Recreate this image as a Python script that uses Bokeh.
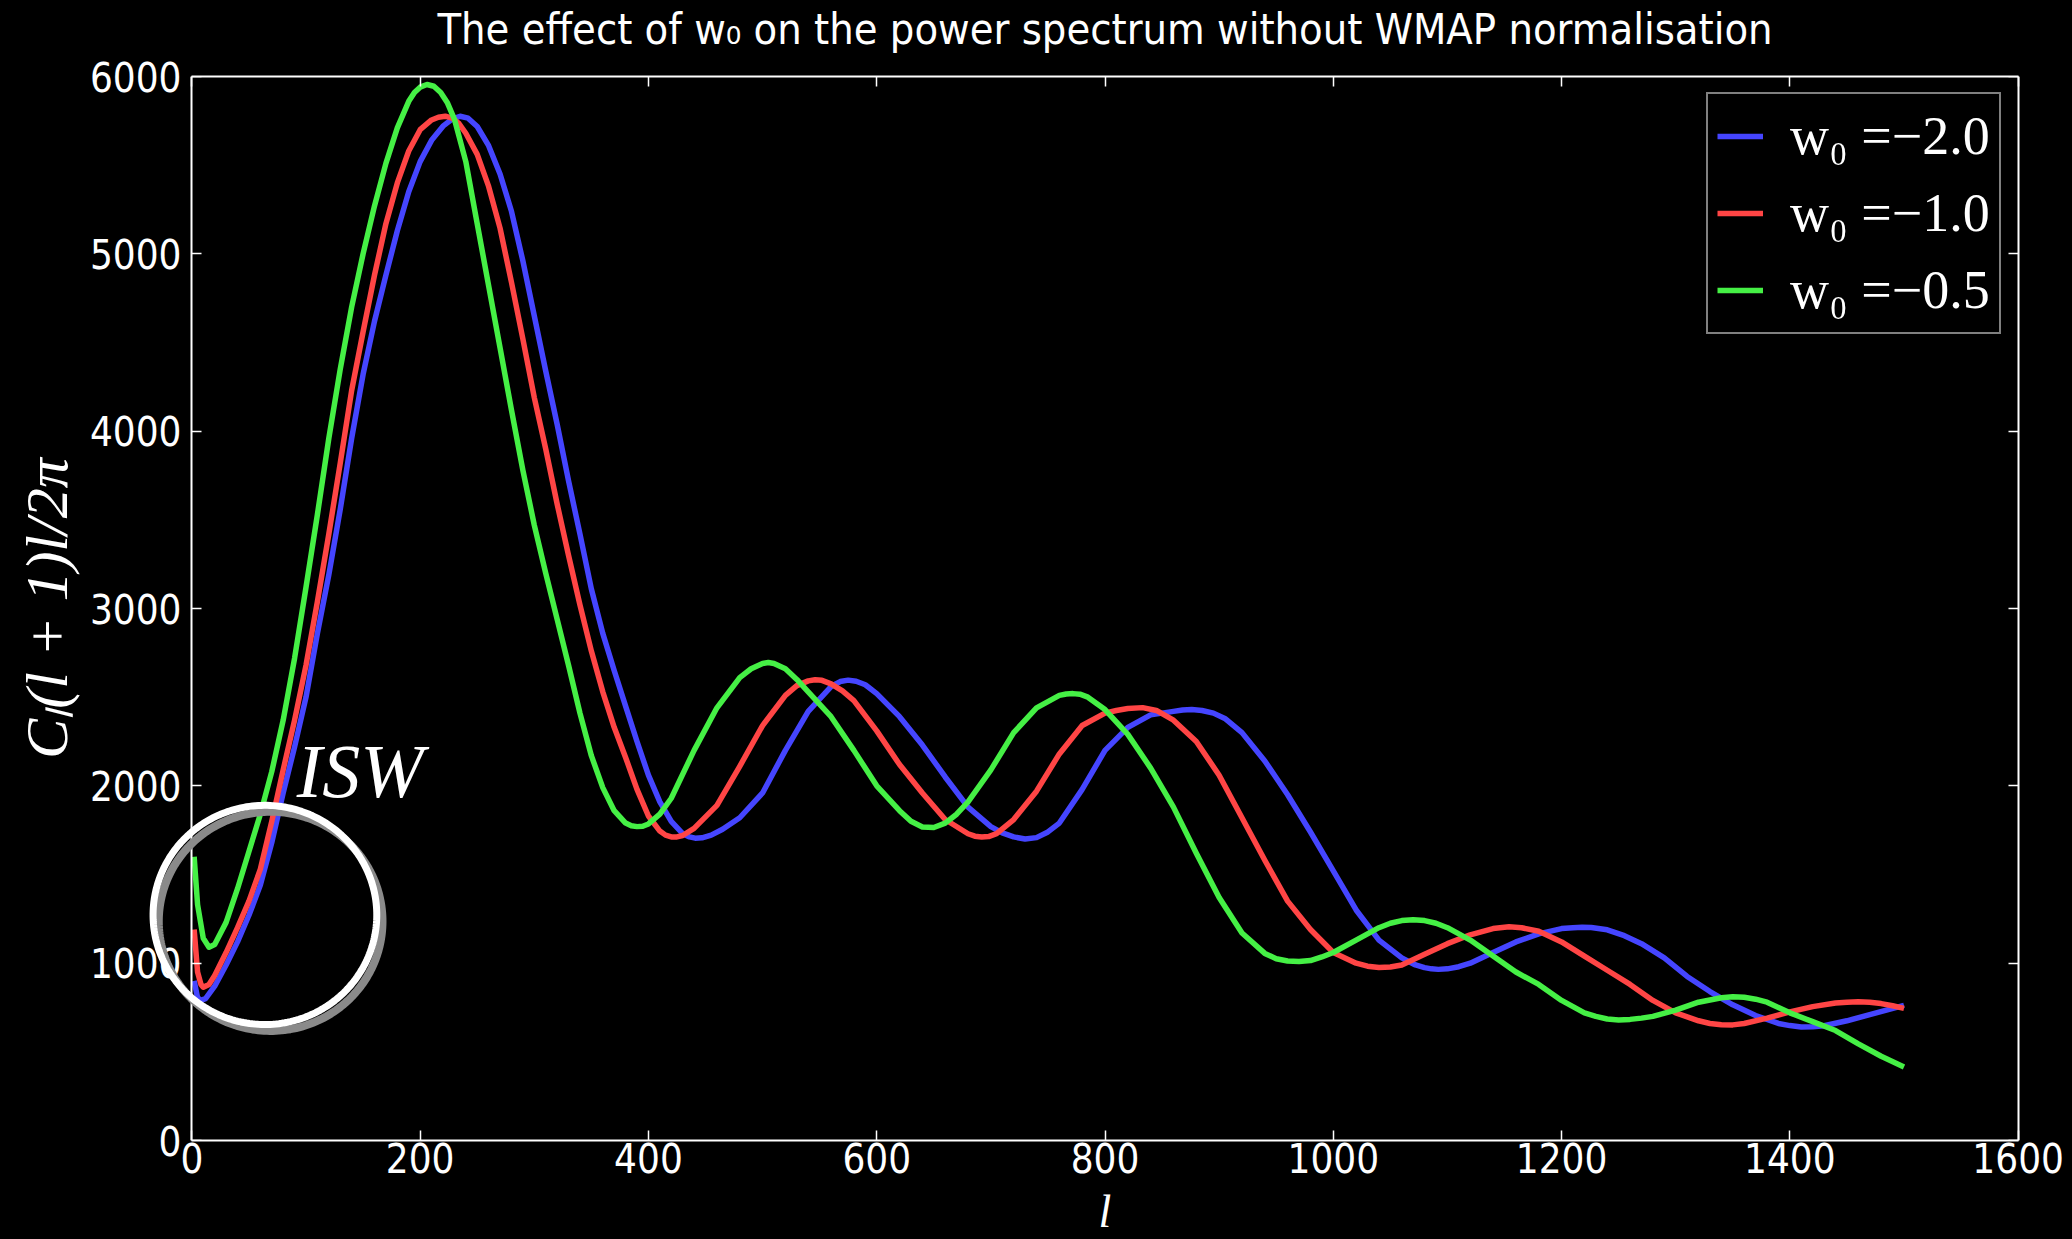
import numpy as np
from bokeh.plotting import figure
from bokeh.models import (LinearAxis, Legend, LegendItem, Label, PolyAnnotation,
                          FixedTicker, Range1d)
from bokeh.embed import file_html
from bokeh.resources import INLINE

# ---------------- data ----------------
x_ticks = [0, 200, 400, 600, 800, 1000, 1200, 1400, 1600]
y_ticks = [0, 1000, 2000, 3000, 4000, 5000, 6000]

series_labels = ["w₀ =−2.0", "w₀ =−1.0", "w₀ =−0.5"]

l_blue = [2, 5, 8, 12, 20, 30, 40, 50, 60, 70, 80, 90, 100, 110, 120, 130, 140, 150,
          160, 170, 180, 190, 200, 210, 220, 228, 235, 242, 250, 260, 270, 280, 290,
          300, 310, 320, 330, 340, 350, 360, 370, 380, 390, 400, 410, 420, 430, 436,
          441, 447, 455, 465, 480, 500, 520, 540, 560, 568, 575, 582, 590, 600, 620,
          640, 660, 680, 700, 710, 720, 730, 740, 750, 760, 780, 800, 820, 840, 860,
          868, 876, 885, 895, 905, 920, 940, 960, 980, 1000, 1020, 1040, 1060, 1072,
          1080, 1086, 1092, 1100, 1110, 1120, 1140, 1160, 1180, 1200, 1210, 1218,
          1226, 1240, 1255, 1270, 1290, 1310, 1330, 1350, 1370, 1390, 1400, 1410,
          1420, 1430, 1450, 1470, 1500]
cl_blue = [900, 805, 790, 800, 870, 990, 1120, 1270, 1440, 1680, 1960, 2220, 2500,
           2860, 3190, 3560, 3960, 4320, 4620, 4880, 5130, 5350, 5520, 5640, 5720,
           5760, 5776, 5765, 5718, 5610, 5450, 5240, 4960, 4650, 4340, 4040, 3720,
           3420, 3110, 2860, 2650, 2450, 2250, 2060, 1910, 1800, 1730, 1712, 1705,
           1707, 1722, 1755, 1820, 1960, 2200, 2420, 2560, 2588, 2596, 2590, 2570,
           2520, 2390, 2230, 2050, 1880, 1770, 1735, 1712, 1700, 1708, 1740, 1790,
           1980, 2200, 2330, 2400, 2420, 2428, 2430, 2425, 2410, 2380, 2300, 2140,
           1950, 1740, 1520, 1300, 1130, 1030, 990, 975, 968, 965, 968, 980, 1000,
           1060, 1120, 1165, 1195, 1200, 1203, 1201, 1188, 1155, 1110, 1030, 925,
           840, 765, 705, 660, 648, 640, 641, 647, 675, 710, 762]

l_red = [2, 5, 8, 10, 15, 20, 30, 40, 50, 60, 70, 80, 90, 100, 110, 120, 130, 140,
         150, 160, 170, 180, 190, 200, 210, 216, 222, 228, 234, 240, 250, 260, 270,
         280, 290, 300, 310, 320, 330, 340, 350, 360, 370, 380, 390, 400, 410, 415,
         420, 425, 430, 440, 460, 480, 500, 520, 530, 540, 546, 552, 560, 570, 580,
         600, 620, 640, 660, 680, 686, 692, 698, 705, 720, 740, 760, 780, 800, 810,
         820, 833, 845, 860, 880, 900, 920, 940, 960, 980, 1000, 1020, 1030, 1040,
         1050, 1060, 1080, 1100, 1120, 1140, 1154, 1165, 1180, 1200, 1220, 1240,
         1260, 1280, 1300, 1320, 1330, 1340, 1350, 1360, 1380, 1400, 1420, 1440,
         1450, 1460, 1470, 1480, 1490, 1500]
cl_red = [1190, 950, 880, 864, 880, 930, 1060, 1200, 1350, 1530, 1800, 2090, 2370,
          2680, 3040, 3420, 3820, 4230, 4560, 4880, 5170, 5400, 5580, 5700, 5755,
          5770, 5776, 5765, 5735, 5680, 5561, 5380, 5145, 4840, 4520, 4190, 3900,
          3590, 3300, 3020, 2760, 2530, 2330, 2160, 1980, 1830, 1745, 1722, 1712,
          1712, 1720, 1760, 1890, 2110, 2340, 2510, 2565, 2592, 2598, 2595, 2575,
          2535, 2480, 2310, 2120, 1960, 1810, 1730, 1716, 1711, 1714, 1730, 1810,
          1970, 2180, 2340, 2410, 2425, 2436, 2441, 2425, 2370, 2250, 2060, 1820,
          1580, 1350, 1190, 1060, 1000, 983, 975, 978, 990, 1050, 1110, 1160, 1195,
          1205, 1200, 1180, 1120, 1040, 960, 880, 790, 720, 675, 660, 653, 652, 660,
          690, 725, 755, 775, 780, 782, 780, 772, 760, 745]

l_green = [2, 5, 10, 15, 20, 30, 40, 50, 60, 70, 80, 90, 100, 110, 120, 130, 140, 150,
           160, 170, 180, 190, 195, 200, 206, 212, 218, 224, 230, 240, 250, 260, 270,
           280, 290, 300, 310, 320, 330, 340, 350, 360, 370, 380, 385, 390, 395, 400,
           410, 420, 440, 460, 480, 490, 500, 505, 510, 520, 530, 540, 560, 580, 600,
           620, 630, 640, 650, 660, 670, 680, 700, 720, 740, 760, 766, 772, 778, 785,
           800, 820, 840, 860, 880, 900, 920, 940, 950, 960, 970, 980, 990, 1000,
           1020, 1040, 1050, 1060, 1070, 1080, 1090, 1100, 1120, 1140, 1160, 1180,
           1200, 1220, 1230, 1240, 1250, 1260, 1270, 1280, 1300, 1320, 1340, 1350,
           1360, 1370, 1380, 1400, 1420, 1440, 1460, 1480, 1500]
cl_green = [1600, 1330, 1140, 1090, 1105, 1230, 1420, 1630, 1840, 2080, 2370, 2720,
            3120, 3530, 3960, 4350, 4700, 5000, 5270, 5510, 5710, 5860, 5910, 5940,
            5955, 5945, 5910, 5850, 5760, 5520, 5170, 4820, 4470, 4120, 3780, 3470,
            3200, 2940, 2680, 2410, 2170, 1990, 1860, 1790, 1775, 1770, 1772, 1785,
            1840, 1930, 2200, 2440, 2610, 2660, 2690, 2695, 2690, 2660, 2600, 2530,
            2390, 2200, 2000, 1860, 1800, 1768, 1765, 1790, 1840, 1910, 2090, 2300,
            2440, 2510, 2518, 2520, 2517, 2500, 2430, 2290, 2100, 1880, 1620, 1370,
            1170, 1055, 1025, 1012, 1010, 1015, 1035, 1060, 1130, 1200, 1225, 1240,
            1245, 1240, 1225, 1200, 1130, 1040, 950, 880, 790, 720, 700, 685, 680,
            683, 690, 700, 735, 780, 805, 810, 808, 797, 780, 720, 670, 620, 545, 475,
            415]

colors = ["#4545ff", "#ff4545", "#45f045"]

TITLE = "The effect of w₀ on the power spectrum without WMAP normalisation"

# ---------------- figure ----------------
SANS = "DejaVu Sans Condensed"
SERIF = "Liberation Serif"

# The frame is padded symmetrically around l = 0..1600 so the ISW ring is not
# clipped; the spines are drawn at l = 0 and l = 1600 by fixed-location axes.
p = figure(width=2072, height=1239, output_backend="svg", toolbar_location=None,
           x_range=Range1d(-45, 1645), y_range=Range1d(0, 6000),
           min_border_left=140, min_border_right=3, min_border_top=75,
           min_border_bottom=97,
           background_fill_color=None, border_fill_color=None,
           outline_line_color=None)
p.styles = {"background-color": "black"}
p.title = None
p.xgrid.visible = False
p.ygrid.visible = False


def style_axis(ax, ticks, show_labels):
    ax.ticker = FixedTicker(ticks=ticks)
    ax.axis_line_color = "white"
    ax.axis_line_width = 2
    ax.major_tick_line_color = "white"
    ax.major_tick_line_width = 1.5
    ax.major_tick_in = 10
    ax.major_tick_out = 0
    ax.minor_tick_line_color = None
    ax.major_label_text_font = SANS
    if show_labels:
        ax.major_label_text_color = "white"
        ax.major_label_text_font_size = "40px"
    else:
        ax.major_label_text_color = None
        ax.major_label_text_font_size = "0px"
        ax.major_label_standoff = 0


# bottom axis (spine from l=0 to 1600)
xa = p.xaxis[0]
style_axis(xa, x_ticks, True)
xa.bounds = (0, 1600)
xa.major_label_standoff = 2
xa.axis_label = "l"
xa.axis_label_text_font = SERIF
xa.axis_label_text_font_style = "italic"
xa.axis_label_text_font_size = "46px"
xa.axis_label_text_color = "white"
xa.axis_label_standoff = 10

# left axis at the frame edge: carries only the tick labels and the axis label
ya = p.yaxis[0]
style_axis(ya, y_ticks, True)
ya.axis_line_color = None
ya.major_tick_line_color = None
ya.major_label_standoff = -41
ya.axis_label = "Cₗ(l + 1)l/2π"
ya.axis_label_text_font = SERIF
ya.axis_label_text_font_style = "italic"
ya.axis_label_text_font_size = "60px"
ya.axis_label_text_color = "white"
ya.axis_label_standoff = 7

# left and right spines with inward ticks at l = 0 and l = 1600
left_spine = LinearAxis(fixed_location=0)
style_axis(left_spine, y_ticks, False)
p.add_layout(left_spine, "left")
right_spine = LinearAxis(fixed_location=1600)
style_axis(right_spine, y_ticks, False)
p.add_layout(right_spine, "right")

# top spine: inward ticks, title as its label
top_ax = LinearAxis()
style_axis(top_ax, x_ticks, False)
top_ax.bounds = (0, 1600)
top_ax.axis_label = TITLE
top_ax.axis_label_text_font = SANS
top_ax.axis_label_text_font_style = "normal"
top_ax.axis_label_text_font_size = "43px"
top_ax.axis_label_text_color = "white"
top_ax.axis_label_standoff = 23
p.add_layout(top_ax, "above")

# ---------------- curves ----------------
renderers = []
for lx, cy, col in [(l_blue, cl_blue, colors[0]), (l_red, cl_red, colors[1]),
                    (l_green, cl_green, colors[2])]:
    r = p.line(lx, cy, line_color=col, line_width=5.5, line_join="round")
    renderers.append(r)

# ---------------- ISW annotation ----------------
theta = np.linspace(0, 2 * np.pi, 240)
cx, cy0, rx, ry = 64, 1272, 98, 618
shadow = PolyAnnotation(xs=list(cx + 5 + rx * np.cos(theta)),
                        ys=list(cy0 - 36 + ry * np.sin(theta)),
                        fill_alpha=0, line_color="#8a8a8a", line_alpha=1.0,
                        line_width=8)
ring = PolyAnnotation(xs=list(cx + rx * np.cos(theta)),
                      ys=list(cy0 + ry * np.sin(theta)),
                      fill_alpha=0, line_color="white", line_alpha=1.0,
                      line_width=7)
p.add_layout(shadow)
p.add_layout(ring)

p.add_layout(Label(x=92, y=2085, text="ISW", text_color="white",
                   text_font=SERIF, text_font_style="italic",
                   text_font_size="76px", text_baseline="middle"))

# ---------------- legend ----------------
items = [LegendItem(label=series_labels[i], renderers=[renderers[i]]) for i in range(3)]
legend = Legend(items=items, location=(1566, 806), padding=9,
                spacing=11, glyph_width=46, glyph_height=66, label_height=66,
                label_standoff=27, label_text_font=SERIF,
                label_text_font_size="54px", label_text_color="white",
                background_fill_color="black", background_fill_alpha=1.0,
                border_line_color="white", border_line_width=2)
p.add_layout(legend)

open("out.html", "w").write(file_html(p, INLINE))
